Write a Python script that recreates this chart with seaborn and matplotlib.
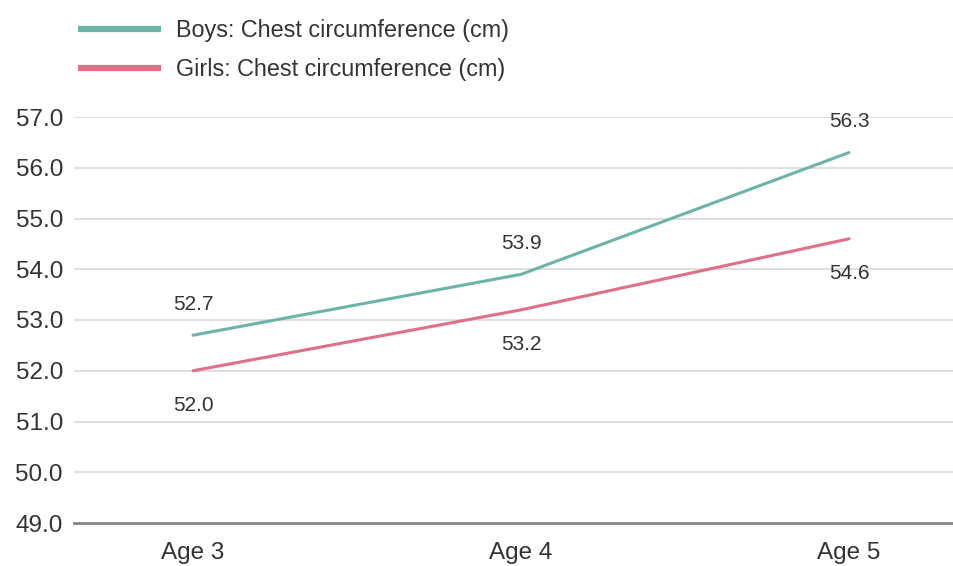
import matplotlib
matplotlib.use("Agg")
import matplotlib.pyplot as plt
import seaborn as sns
import pandas as pd
from matplotlib.lines import Line2D

categories = ["Age 3", "Age 4", "Age 5"]
boys = [52.7, 53.9, 56.3]
girls = [52.0, 53.2, 54.6]
series_names = ["Boys: Chest circumference (cm)", "Girls: Chest circumference (cm)"]
colors = ["#6cb4a8", "#e07088"]
yticks = [49.0, 50.0, 51.0, 52.0, 53.0, 54.0, 55.0, 56.0, 57.0]

sns.set_theme(style="white")
plt.rcParams["font.family"] = ["Liberation Sans", "DejaVu Sans"]

df = pd.DataFrame({
    "x": list(range(len(categories))) * 2,
    "value": boys + girls,
    "series": [series_names[0]] * len(boys) + [series_names[1]] * len(girls),
})

fig = plt.figure(figsize=(9.54, 5.66), dpi=100)
ax = fig.add_axes([74 / 954, 1 - 523 / 566, 1 - 74 / 954, (523 - 117) / 566])

sns.lineplot(data=df, x="x", y="value", hue="series", palette=colors,
             linewidth=2.2, ax=ax, legend=False)

ax.set_xlim(-0.363, 2.32)
ax.set_ylim(49.0, 57.0)
ax.set_yticks(yticks)
ax.set_yticklabels([f"{v:.1f}" for v in yticks])
ax.set_xticks(range(len(categories)))
ax.set_xticklabels(categories)
ax.tick_params(axis="both", length=0, labelsize=17.5, colors="#333333")
ax.tick_params(axis="y", pad=8)
ax.tick_params(axis="x", pad=14)
ax.grid(axis="y", color="#d9d9d9", linewidth=1.2)
ax.set_axisbelow(True)
for s in ["top", "right", "left"]:
    ax.spines[s].set_visible(False)
ax.spines["bottom"].set_color("#888888")
ax.spines["bottom"].set_linewidth(2)
ax.set_xlabel("")
ax.set_ylabel("")

for i, v in enumerate(boys):
    ax.annotate(f"{v:.1f}", (i, v), xytext=(0, 22), textcoords="offset points",
                ha="center", va="center", fontsize=15, color="#333333")
for i, v in enumerate(girls):
    ax.annotate(f"{v:.1f}", (i, v), xytext=(0, -25), textcoords="offset points",
                ha="center", va="center", fontsize=15, color="#333333")

handles = [Line2D([0], [0], color=c, linewidth=4.5, solid_capstyle="butt") for c in colors]
fig.legend(handles, series_names, loc="upper left", bbox_to_anchor=(57 / 954, 1 + 2 / 566),
           frameon=False, fontsize=16.8, handlelength=3.56, handletextpad=0.65,
           labelspacing=0.7, labelcolor="#333333")

fig.savefig("out.png", dpi=100)
